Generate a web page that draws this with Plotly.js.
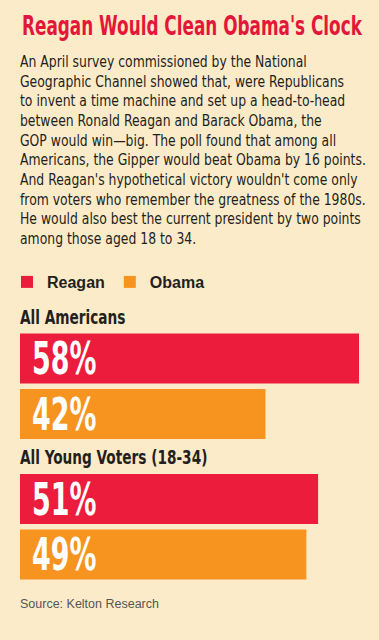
<!DOCTYPE html>
<html>
<head>
<meta charset="utf-8">
<script src="https://cdn.plot.ly/plotly-3.0.1.min.js"></script>
<style>html,body{margin:0;padding:0;background:#FCEBC9;}</style>
</head>
<body>
<div id="chart" style="width:379px;height:640px;"></div>
<script>
const chartTitle = "Reagan Would Clean Obama's Clock";
const bodyLines = [
  "An April survey commissioned by the National",
  "Geographic Channel showed that, were Republicans",
  "to invent a time machine and set up a head-to-head",
  "between Ronald Reagan and Barack Obama, the",
  "GOP would win\u2014big. The poll found that among all",
  "Americans, the Gipper would beat Obama by 16 points.",
  "And Reagan's hypothetical victory wouldn't come only",
  "from voters who remember the greatness of the 1980s.",
  "He would also best the current president by two points",
  "among those aged 18 to 34."
];
const groups = ["All Americans", "All Young Voters (18-34)"];
const seriesNames = ["Reagan", "Obama"];
const reaganValues = [58, 51];
const obamaValues = [42, 49];
const sourceText = "Source: Kelton Research";

const W = 379, H = 640;
const M = {l: 20, r: 20, t: 316, b: 43, pad: 0, autoexpand: false};
const plotH = H - M.t - M.b, plotW = W - M.l - M.r;
const py = p => (H - M.b - p) / plotH;
const px = p => (p - M.l) / plotW;

const BG = '#FCEBC9';
const RED = '#EC1C3D';
const ORANGE = '#F7941F';
const COND = '"DejaVu Sans Condensed", "DejaVu Sans", sans-serif';
const SANS = '"Liberation Sans", Arial, sans-serif';
const DARK = '#231F20';

const seriesValues = [reaganValues, obamaValues];
const colors = [RED, ORANGE];

const traces = seriesNames.map((name, s) => ({
  type: 'bar',
  orientation: 'h',
  name: name,
  x: seriesValues[s],
  y: groups,
  marker: {color: colors[s], line: {width: 0}},
  hoverinfo: 'skip'
}));

const annotations = [];
const squeeze = []; // horizontal condensing factor per annotation
// paragraph, one annotation per line
bodyLines.forEach((line, i) => {
  annotations.push({
    xref: 'paper', yref: 'paper', x: px(18), y: py(62 + i * 19.67),
    xanchor: 'left', yanchor: 'middle', align: 'left',
    showarrow: false, text: line,
    font: {family: COND, size: 15, color: DARK}
  });
  squeeze.push(0.92);
});
// group labels
groups.forEach(g => {
  annotations.push({
    xref: 'paper', yref: 'y', x: px(18), y: g, yshift: 69,
    xanchor: 'left', yanchor: 'middle', align: 'left', showarrow: false, text: g,
    font: {family: COND, size: 19.5, color: DARK, weight: 'bold'}
  });
  squeeze.push(0.78);
});
// bar value labels
seriesValues.forEach((vals, s) => vals.forEach((v, i) => {
  annotations.push({
    xref: 'x', yref: 'y', x: 0, y: groups[i], xshift: 10, yshift: s === 0 ? 27.75 : -27.75,
    xanchor: 'left', yanchor: 'middle', align: 'left', showarrow: false, text: v + '%',
    font: {family: COND, size: 44, color: '#FFFFFF', weight: 'bold'}
  });
  squeeze.push(0.68);
}));
// source
annotations.push({
  xref: 'paper', yref: 'paper', x: px(18), y: py(603.5),
  xanchor: 'left', yanchor: 'middle', align: 'left', showarrow: false, text: sourceText,
  font: {family: SANS, size: 12.5, color: '#555555'}
});
squeeze.push(1);

const maxVal = Math.max(...reaganValues, ...obamaValues);

const layout = {
  width: W, height: H,
  margin: M,
  paper_bgcolor: BG, plot_bgcolor: BG,
  title: {
    text: chartTitle, xref: 'container', yref: 'container',
    x: 22 / W, xanchor: 'left', y: 1 - 26 / H, yanchor: 'middle',
    font: {family: COND, size: 27, color: '#E3173A', weight: 'bold'}
  },
  barmode: 'group', bargap: 0.21, bargroupgap: 0.1,
  xaxis: {range: [0, maxVal], visible: false, fixedrange: true},
  yaxis: {type: 'category', range: [1.5, -0.5], visible: false, fixedrange: true},
  showlegend: true,
  legend: {
    orientation: 'h', x: px(7), y: py(282), xanchor: 'left', yanchor: 'middle',
    font: {family: SANS, size: 16, color: DARK, weight: 'bold'},
    bgcolor: 'rgba(0,0,0,0)', traceorder: 'normal'
  },
  annotations: annotations
};

// narrow a text element horizontally around its start point
function condense(el, f) {
  if (!el) return;
  const x0 = parseFloat(el.getAttribute('x')) || 0;
  const prev = el.getAttribute('transform') || '';
  el.setAttribute('transform', (prev + ' translate(' + x0 + ',0) scale(' + f + ',1) translate(' + (-x0) + ',0)').trim());
}

Plotly.newPlot('chart', traces, layout, {displayModeBar: false, staticPlot: true}).then(gd => {
  const t = gd.querySelector('.gtitle');
  if (t) condense(t, 340 / t.getComputedTextLength());
  squeeze.forEach((f, i) => {
    if (f === 1) return;
    const el = gd.querySelector('.annotation[data-index="' + i + '"] .annotation-text');
    condense(el, f);
  });
});
</script>
</body>
</html>
